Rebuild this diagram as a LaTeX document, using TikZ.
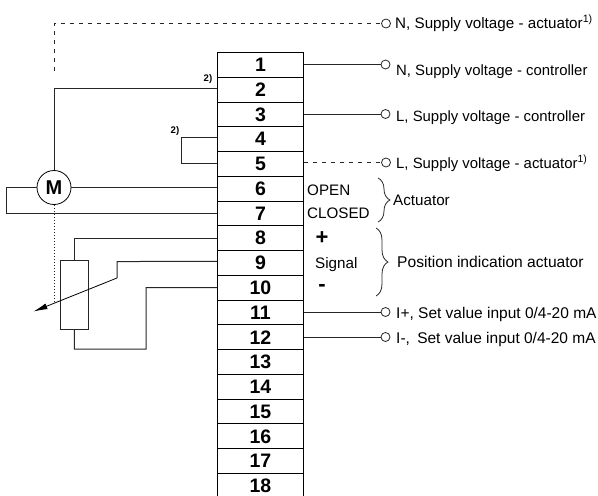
\documentclass[tikz,border=0pt]{standalone}
\usepackage{fontspec}
\setmainfont{Liberation Sans}
\usetikzlibrary{calc}
\usetikzlibrary{arrows.meta}
\usetikzlibrary{decorations.pathreplacing}
\tikzset{>=latex}
\tikzstyle{term} = [rectangle, draw=black, line width=0.9pt, minimum width=85.5pt, minimum height=24.76pt, inner sep=0, font=\fontsize{19.5}{19.5}\bfseries\selectfont]
\tikzstyle{wire} = [-, draw=black!85, line width=1pt]
\tikzstyle{dwire} = [wire, dash pattern=on 4.5pt off 4.5pt]
\tikzstyle{lug} = [circle, draw=black!85, fill=white, line width=0.8pt, minimum size=9pt, inner sep=0]
\tikzstyle{lab} = [draw=none, inner sep=0, anchor=base west, font=\fontsize{15.2}{17}\selectfont]
\tikzstyle{sign} = [draw=none, inner sep=0, font=\fontsize{22}{22}\bfseries\selectfont]
\tikzstyle{note} = [draw=none, inner sep=0, font=\fontsize{9.6}{10}\bfseries\selectfont]
\tikzstyle{curly} = [draw=black!85, line width=0.8pt, decorate, decoration={brace, amplitude=12pt, aspect=0.5}]

\begin{document}
\begin{tikzpicture}[x=1pt, y=-1pt]
\useasboundingbox (0, 0) rectangle (598, 496);
% terminal strip
\foreach \n in {1,...,18} {
  \node [term] (t\n) at (260.5, {64.9+24.76*(\n-1)}) {\n};
}
% motor and potentiometer
\node [circle, draw=black, line width=0.8pt, minimum size=34pt, inner sep=0, font=\fontsize{20}{20}\bfseries\selectfont] (M) at (54, 187.5) {M};
\node [rectangle, draw=black!85, line width=1pt, minimum width=27.5pt, minimum height=69pt, inner sep=0] (R) at (74.3, 294.5) {};
\coordinate (dashend) at (54, 71);
\coordinate (dotend) at (54, 303);
\coordinate (tipend) at (33.5, 311.5);
% outputs on the right
\node [lug] (o0) at (386, 23.5) {};
\node [lug] (o1) at (385.5, 64.5) {};
\node [lug] (o3) at (385.5, 114) {};
\node [lug] (o5) at (386, 162.5) {};
\node [lug] (o11) at (385.5, 312) {};
\node [lug] (o12) at (385.5, 337) {};
\node [lab] (l0) at (395, 28) {N, Supply voltage - actuator\textsuperscript{1)}};
\node [lab, font=\fontsize{14.9}{17}\selectfont] (l1) at (396, 75) {N, Supply voltage - controller};
\node [lab, font=\fontsize{14.9}{17}\selectfont] (l3) at (396, 121.5) {L, Supply voltage - controller};
\node [lab, font=\fontsize{14.9}{17}\selectfont] (l5) at (396, 168) {L, Supply voltage - actuator\textsuperscript{1)}};
\node [lab, font=\fontsize{15.5}{17}\selectfont] (l11) at (396, 318) {I+, Set value input 0/4-20 mA};
\node [lab, font=\fontsize{15.5}{17}\selectfont] (l12) at (396, 343) {I-,\hspace{3pt} Set value input 0/4-20 mA};
% text inside and beside the strip
\node [lab] (open) at (307, 195) {OPEN};
\node [lab] (closed) at (307, 218) {CLOSED};
\node [sign] (plus) at (322, 238) {+};
\node [lab] (signal) at (315, 268) {Signal};
\node [sign] (minus) at (322, 288) {-};
\node [lab] (act) at (393, 205) {Actuator};
\node [lab, font=\fontsize{15.6}{17}\selectfont] (pos) at (397, 267) {Position indication actuator};
\node [note] (n2) at (208, 79) {2)};
\node [note] (n4) at (175, 131) {2)};
% braces
\coordinate (b1a) at (378, 178);
\coordinate (b1b) at (378, 222);
\coordinate (b2a) at (376, 228);
\coordinate (b2b) at (376, 296);
\draw [curly] (b1a) to (b1b);
\draw [curly] (b2a) to (b2b);
% wiring
\draw [dwire] (dashend) |- (o0);
\draw [dwire] (t5.east |- o5) to (o5);
\draw [wire] (t1.east |- o1) to (o1);
\draw [wire] (t3.east |- o3) to (o3);
\draw [wire] (t11.east |- o11) to (o11);
\draw [wire] (t12.east |- o12) to (o12);
\draw [wire] (M) |- ($(t2.west)+(0,-1.5)$);
\draw [wire] ($(t4.west)+(0,-2)$) -- ++(-35.5, 0) |- (t5.west);
\draw [wire] (M) to (t6.west |- M);
\draw [wire] (M.west) -- (6, 187.5) |- (t7.west);
\draw [wire, dotted] (M) to (dotend);
\draw [wire] (t8.west) -| (R);
\draw [wire] (t10.west) -- (146, 287.7) |- (74.3, 349) -- (R);
\draw [wire] ($(t9.west)+(0,-1.5)$) -- (117, 261.5) -- (117, 278);
\draw [-{Latex[length=14pt, width=6pt]}, draw=black, line width=0.8pt] (117, 278) to (tipend);
\end{tikzpicture}
\end{document}
